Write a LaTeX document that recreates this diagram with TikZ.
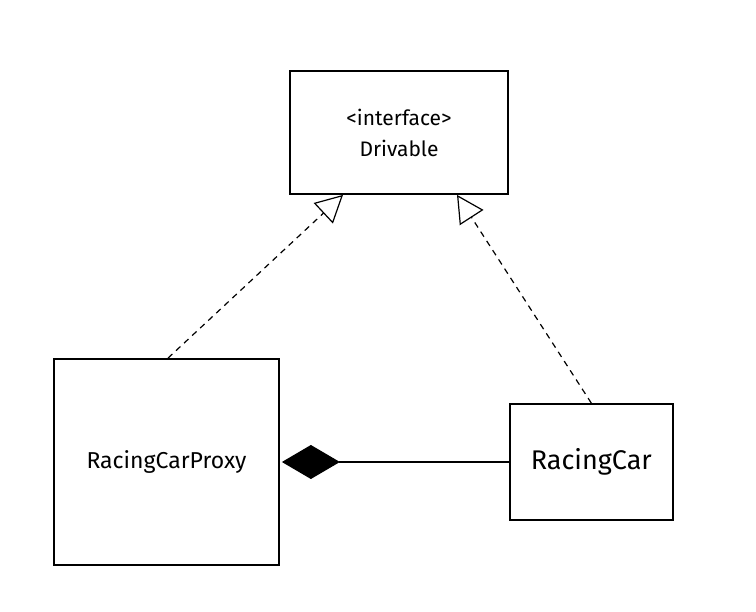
\documentclass[tikz,border=0pt]{standalone}
\usepackage{fontspec}
\setmainfont{Fira Sans}
\usepackage{tikz}
\usetikzlibrary{positioning}
\usetikzlibrary{calc}
\usetikzlibrary{arrows.meta}

\begin{document}
\begin{tikzpicture}[
    x=1pt, y=-1pt,
    line width=1.8pt,
    % Styling for the class boxes
    classBox/.style={
        rectangle,
        draw,
        fill=white,
        inner sep=0pt,
        align=center
    },
    % realization edge (dashed, open triangle)
    implements/.style={
        -{Triangle[open, length=27pt, width=28pt, line width=1.2pt]},
        line width=1.2pt,
        dash pattern=on 6pt off 5pt
    },
    % composition edge (filled diamond)
    composes/.style={
        {Diamond[fill=black, length=58pt, width=34pt]}-,
        line width=1.2pt
    }
]
    \useasboundingbox (0,0) rectangle (756,612);

    % Define Nodes
    \node[classBox, minimum width=218pt, minimum height=123pt, font=\fontsize{21}{31}\selectfont]
        (drivable) at (399,132.5) {<interface>\\Drivable};
    \node[classBox, minimum width=225pt, minimum height=206pt, font=\fontsize{23}{26}\selectfont]
        (proxy) at (166.5,462) {RacingCarProxy};
    \node[classBox, minimum width=163pt, minimum height=116pt, font=\fontsize{27}{30}\selectfont]
        (car) [right=229pt of proxy] {RacingCar};

    % Draw Edges
    \draw[implements] (proxy.north) ++(1.5,0) -- ($(drivable.south)+(-56,0)$);
    \draw[implements] (car.north) -- ($(drivable.south)+(58,0)$);
    \draw[composes] (proxy.east) ++(2,0) -- (car.west);

\end{tikzpicture}
\end{document}
